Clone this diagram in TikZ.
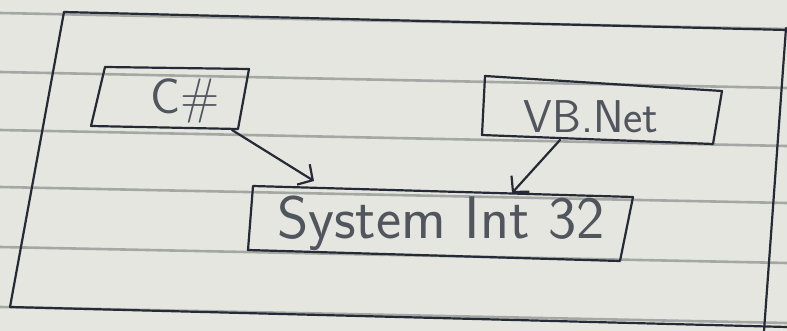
\documentclass[tikz,border=0pt]{standalone}
\usetikzlibrary{arrows.meta}
\definecolor{paper}{HTML}{E4E6DF}
\definecolor{rulec}{HTML}{8F938F}
\definecolor{pen}{HTML}{262A36}
\begin{document}
\begin{tikzpicture}[x=1pt,y=-1pt,
  penline/.style={draw=pen,line width=2.2pt,line join=round,line cap=round},
  ruled/.style={draw=rulec,line width=2.6pt,opacity=0.75},
  lbl/.style={text=pen!80,inner sep=0pt,font=\sffamily},
  arr/.style={penline,-{Straight Barb[length=11pt,width=24pt]}}]
\fill[paper] (0,0) rectangle (787,331);
\useasboundingbox (0,0) rectangle (787,331);
% notebook ruling
\foreach \y in {13,72,130,187,247,307}
  \draw[ruled] (0,\y) -- (787,\y+16);
% outer frame
\coordinate (ftl) at (64,12);
\coordinate (ftr) at (787,30);
\coordinate (fbl) at (10,307);
\coordinate (fbr) at (787,327);
\coordinate (frt) at (786,28);
\coordinate (frb) at (764,331);
\draw[penline] (ftl) -- (ftr);
\draw[penline] (ftl) -- (fbl) -- (fbr);
\draw[penline] (frt) -- (frb);
% C# box
\coordinate (c1) at (105,67);
\coordinate (c2) at (249,69);
\coordinate (c3) at (238,129);
\coordinate (c4) at (91,126);
\draw[penline] (c1) -- (c2) -- (c3) -- (c4) -- cycle;
\node[lbl,font=\sffamily\fontsize{50}{54}\selectfont] (cs) at (185,101) {C\#};
% VB.Net box
\coordinate (v1) at (485,76);
\coordinate (v2) at (722,91);
\coordinate (v3) at (713,144);
\coordinate (v4) at (482,135);
\draw[penline] (v1) -- (v2) -- (v3) -- (v4) -- cycle;
\node[lbl,font=\sffamily\fontsize{46}{50}\selectfont] (vb) at (591,117) {VB.Net};
% System Int 32 box
\coordinate (s1) at (253,186);
\coordinate (s2) at (633,197);
\coordinate (s3) at (620,261);
\coordinate (s4) at (248,250);
\draw[penline] (s1) -- (s2) -- (s3) -- (s4) -- cycle;
\node[lbl,font=\sffamily\fontsize{60}{64}\selectfont] (sys) at (441,223) {System Int 32};
% arrows
\coordinate (csout) at (232,130);
\coordinate (sysin1) at (314,181);
\coordinate (vbout) at (560,140);
\coordinate (sysin2) at (512,193);
\draw[arr] (csout) -- (sysin1);
\draw[arr] (vbout) -- (sysin2);
\end{tikzpicture}
\end{document}
